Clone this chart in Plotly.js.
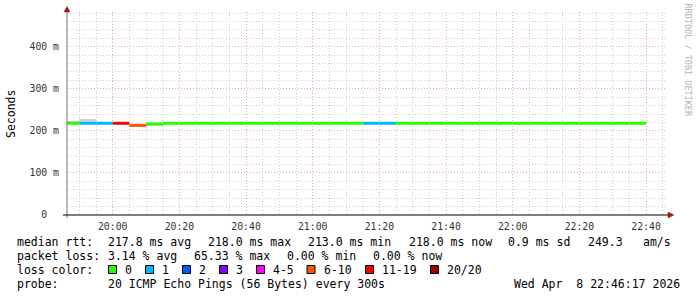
<!DOCTYPE html>
<html>
<head>
<meta charset="utf-8">
<script src="https://cdn.plot.ly/plotly-3.0.1.min.js"></script>
<style>html,body{margin:0;padding:0;background:#fff;}#chart{width:697px;height:297px;}</style>
</head>
<body>
<div id="chart"></div>
<script>
// ---- data (interval end times, 300 s step) ----
const sampleTimes = [
  '2026-04-08 19:50:00','2026-04-08 19:55:00','2026-04-08 20:00:00','2026-04-08 20:05:00',
  '2026-04-08 20:10:00','2026-04-08 20:15:00','2026-04-08 20:20:00','2026-04-08 20:25:00',
  '2026-04-08 20:30:00','2026-04-08 20:35:00','2026-04-08 20:40:00','2026-04-08 20:45:00',
  '2026-04-08 20:50:00','2026-04-08 20:55:00','2026-04-08 21:00:00','2026-04-08 21:05:00',
  '2026-04-08 21:10:00','2026-04-08 21:15:00','2026-04-08 21:20:00','2026-04-08 21:25:00',
  '2026-04-08 21:30:00','2026-04-08 21:35:00','2026-04-08 21:40:00','2026-04-08 21:45:00',
  '2026-04-08 21:50:00','2026-04-08 21:55:00','2026-04-08 22:00:00','2026-04-08 22:05:00',
  '2026-04-08 22:10:00','2026-04-08 22:15:00','2026-04-08 22:20:00','2026-04-08 22:25:00',
  '2026-04-08 22:30:00','2026-04-08 22:35:00','2026-04-08 22:40:00'
];
// median rtt in ms
const medianRtt = [
  218.0,218.0,218.0,218.0,213.0,216.5,218.0,218.0,218.0,218.0,218.0,218.0,
  218.0,218.0,218.0,218.0,218.0,218.0,218.0,218.0,218.0,218.0,218.0,218.0,
  218.0,218.0,218.0,218.0,218.0,218.0,218.0,218.0,218.0,218.0,218.0
];
// lost pings out of 20
const lostPings = [
  0,1,1,13,7,0,0,0,0,0,0,0,
  0,0,0,0,0,0,1,1,0,0,0,0,
  0,0,0,0,0,0,0,0,0,0,0
];
// smoke (ping spread) in ms
const smokeLow = [
  218,218,218,218,213,212,218,218,218,218,218,218,
  218,218,218,218,218,218,218,218,218,218,218,218,
  218,218,218,218,218,218,218,218,218,218,218
];
const smokeHigh = [
  224,228,218,218,213,216.5,218,218,218,218,218,218,
  218,218,218,218,218,218,218,218,218,218,218,218,
  218,218,218,218,218,218,218,218,218,218,218
];
const lossLabels = ['0','1','2','3','4-5','6-10','11-19','20/20'];
const lossUpper  = [0,1,2,3,5,10,19,20];
const lossColors = ['#26ff00','#00b8ff','#0059ff','#7e00ff','#ff00ff','#ff5500','#ff0000','#a10000'];
const yTickVals  = [0,0.1,0.2,0.3,0.4];
const yTickText  = ['0\u00a0\u00a0','100\u00a0m','200\u00a0m','300\u00a0m','400\u00a0m'];
const graphStart = '2026-04-08 19:46:17';
const graphEnd   = '2026-04-08 22:46:17';
const stepSec = 300;

// ---- helpers ----
const toMs = s => Date.parse(s.replace(' ','T') + 'Z');
const bucketOf = n => lossUpper.findIndex(u => n <= u);

// geometry of plot area (pixels)
const L = 67, T = 12, W = 600, H = 203;
const px = x => (x - L) / W;
const py = y => (T + H - y) / H;

const traces = [];
// smoke
traces.push({
  type:'bar',
  x: sampleTimes.map(t => toMs(t) - stepSec*500),
  base: smokeLow.map(v => v/1000),
  y: smokeHigh.map((v,i) => (v - smokeLow[i])/1000),
  width: stepSec*1000,
  marker:{color:'#d2d2d2', line:{width:0}},
  hoverinfo:'skip', showlegend:false
});
// median line coloured by loss
lossColors.forEach((c, b) => {
  const xs = [], ys = [];
  sampleTimes.forEach((t, i) => {
    if (bucketOf(lostPings[i]) !== b) return;
    const e = toMs(t);
    xs.push(e - stepSec*1000, e, null);
    ys.push(medianRtt[i]/1000, medianRtt[i]/1000, null);
  });
  if (xs.length) traces.push({
    type:'scatter', mode:'lines', x: xs, y: ys,
    line:{color:c, width:3}, connectgaps:false,
    hoverinfo:'skip', showlegend:false
  });
});

const mono = 'DejaVu Sans Mono';
const ann = [];
function txt(x, y, s, opt) {
  ann.push(Object.assign({
    xref:'paper', yref:'paper', x: px(x), y: py(y), text: s.replace(/ /g,'\u00a0'),
    showarrow:false, xanchor:'left', yanchor:'middle', borderpad:0,
    font:{family:mono, size:11.5, color:'#000'}
  }, opt||{}));
}
// legend rows
txt(16, 241.5, 'median rtt:');
txt(107, 241.5, '217.8 ms avg');
txt(207, 241.5, '218.0 ms max');
txt(307, 241.5, '213.0 ms min');
txt(407.5, 241.5, '218.0 ms now');
txt(506.5, 241.5, '0.9 ms sd');
txt(586.5, 241.5, '249.3');
txt(641.5, 241.5, 'am/s');

txt(16, 255.5, 'packet loss:');
txt(107, 255.5, '3.14 % avg');
txt(193, 255.5, '65.33 % max');
txt(286, 255.5, '0.00 % min');
txt(372, 255.5, '0.00 % now');

txt(16, 269.5, 'loss color:');
const boxX = [108.5,145.5,182.5,219.5,256.5,307,365.5,430.5];
const shapes = [];
lossLabels.forEach((lab, i) => {
  shapes.push({type:'rect', xref:'paper', yref:'paper',
    x0: px(boxX[i]), x1: px(boxX[i]+8), y0: py(273.5), y1: py(265.5),
    fillcolor: lossColors[i], line:{color:'#000', width:1}});
  txt(boxX[i]+15.5, 269.5, lab);
});

txt(16, 283.5, 'probe:');
txt(107, 283.5, '20 ICMP Echo Pings (56 Bytes) every 300s');
txt(513, 283.5, 'Wed Apr  8 22:46:17 2026');

// axis title and watermark
ann.push({xref:'paper', yref:'paper', x: px(11), y: py(114), text:'Seconds', textangle:-90,
  showarrow:false, xanchor:'center', yanchor:'middle', font:{family:mono, size:11.5, color:'#000'}});
ann.push({xref:'paper', yref:'paper', x: px(687.5), y: py(60), text:'RRDTOOL\u00a0/\u00a0TOBI\u00a0OETIKER', textangle:90,
  showarrow:false, xanchor:'center', yanchor:'middle', font:{family:mono, size:8.5, color:'#b4b4b4'}});

// axes lines and arrows
shapes.push({type:'line', xref:'paper', yref:'paper', x0:px(67), x1:px(67), y0:py(218), y1:py(10),
  line:{color:'#777', width:1}});
shapes.push({type:'line', xref:'paper', yref:'paper', x0:px(63), x1:px(669), y0:py(215), y1:py(215),
  line:{color:'#000', width:1}});
shapes.push({type:'path', xref:'paper', yref:'paper',
  path:`M ${px(668)} ${py(212)} L ${px(674)} ${py(215)} L ${px(668)} ${py(218)} Z`,
  fillcolor:'#a01818', line:{color:'#a01818', width:0.5}});
shapes.push({type:'path', xref:'paper', yref:'paper',
  path:`M ${px(64)} ${py(12)} L ${px(67)} ${py(6.5)} L ${px(70)} ${py(12)} Z`,
  fillcolor:'#a01818', line:{color:'#a01818', width:0.5}});

const layout = {
  width:697, height:297,
  margin:{l:L, r:697-L-W, t:T, b:297-T-H, pad:0},
  paper_bgcolor:'#fff', plot_bgcolor:'#fff',
  showlegend:false, barmode:'overlay', bargap:0,
  xaxis:{
    type:'date', range:[toMs(graphStart), toMs(graphEnd)],
    tick0:'2026-04-08 20:00:00', dtick:20*60*1000, tickformat:'%H:%M',
    showgrid:true, gridcolor:'#f2a8a8', griddash:'1px,2px', gridwidth:1,
    minor:{dtick:5*60*1000, showgrid:true, gridcolor:'#cfcfcf', griddash:'1px,2px', gridwidth:1},
    showline:false, zeroline:false, ticks:'', ticklabelstandoff:4,
    tickfont:{family:mono, size:9.8, color:'#333'}, fixedrange:true
  },
  yaxis:{
    range:[0, 0.4825], tickvals:yTickVals, ticktext:yTickText,
    showgrid:true, gridcolor:'#f2a8a8', griddash:'1px,2px', gridwidth:1,
    minor:{dtick:0.02, showgrid:true, gridcolor:'#cfcfcf', griddash:'1px,2px', gridwidth:1},
    showline:false, zeroline:false, ticks:'', ticklabelstandoff:7,
    tickfont:{family:mono, size:9.8, color:'#333'}, fixedrange:true
  },
  shapes: shapes,
  annotations: ann
};
Plotly.newPlot('chart', traces, layout, {displayModeBar:false, staticPlot:true});
</script>
</body>
</html>
